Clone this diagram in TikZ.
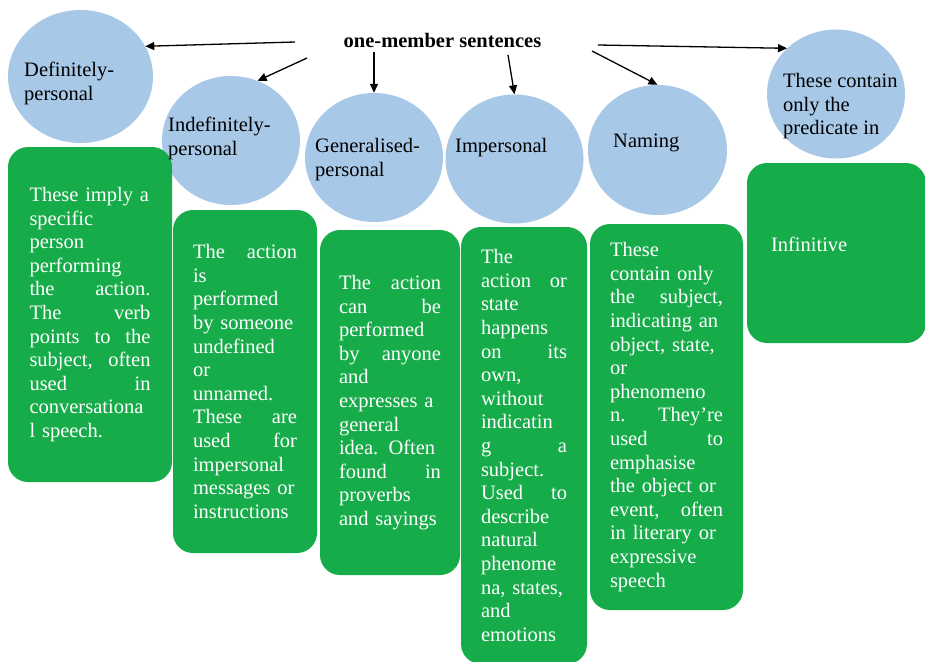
\documentclass[tikz,border=0pt]{standalone}
\usepackage{fontspec}
\setmainfont{Liberation Serif}
\usetikzlibrary{shapes.geometric,arrows.meta}
\definecolor{bubbleblue}{RGB}{168,200,232}
\definecolor{cardgreen}{RGB}{23,172,74}
\newcommand{\bodyfont}{\fontsize{20.5}{23.6}\selectfont\hyphenpenalty=10000\relax}
\tikzset{
  bubble/.style={ellipse, fill=bubbleblue, minimum width=138pt, minimum height=129pt, inner sep=0pt},
  card/.style={rounded corners=20pt, fill=cardgreen, text=white, align=left, inner sep=0pt, font=\bodyfont},
  bubbletext/.style={anchor=north west, align=left, inner sep=0pt, font=\bodyfont},
  branch/.style={line width=1.3pt, -{Triangle[length=9pt,width=8pt]}}
}
\begin{document}
\begin{tikzpicture}[x=1pt,y=-1pt]
\useasboundingbox[fill=white] (0,0) rectangle (925,661);
\node[bubble, minimum width=145pt, minimum height=133pt] (def) at (80.5,76.5){};
\node[bubble] (indef) at (231,140.5){};
\node[bubble] (gen) at (374,157.5){};
\node[bubble] (imp) at (514.5,159){};
\node[bubble, minimum width=139pt, minimum height=130pt] (nam) at (657.5,150){};
\node[bubble] (inf) at (836,94){};
\node[card, minimum width=164pt, minimum height=335pt, text width=121pt] (defcard) at (90,314.5){These imply a\\ specific\\ person\\ performing\\ the\hfill action.\\ The\hfill verb\\ points\hfill to\hfill the\\ subject,\hfill often\\ used\hfill in\\ conversationa\\ l speech.};
\node[card, minimum width=144pt, minimum height=343pt, text width=104pt] (indefcard) at (245,381.5){The\hfill action\\ is\\ performed\\ by someone\\ undefined\\ or\\ unnamed.\\ These\hfill are\\ used\hfill for\\ impersonal\\ messages or\\ instructions};
\node[card, minimum width=140pt, minimum height=345pt, text width=102pt] (gencard) at (390,402.5){The\hfill action\\ can\hfill be\\ performed\\ by\hfill anyone\\ and\\ expresses a\\ general\\ idea. Often\\ found\hfill in\\ proverbs\\ and sayings};
\node[card, minimum width=126pt, minimum height=437pt, text width=86pt] (impcard) at (524,445.5){The\\ action\hfill or\\ state\\ happens\\ on\hfill its\\ own,\\ without\\ indicatin\\ g\hfill a\\ subject.\\ Used\hfill to\\ describe\\ natural\\ phenome\\ na, states,\\ and\\ emotions};
\node[card, minimum width=153pt, minimum height=386pt, text width=113pt] (namcard) at (666.5,417){These\\ contain only\\ the\hfill subject,\\ indicating an\\ object, state,\\ or\\ phenomeno\\ n.\hfill They’re\\ used\hfill to\\ emphasise\\ the object or\\ event,\hfill often\\ in literary or\\ expressive\\ speech};
\node[card, minimum width=179pt, minimum height=180pt, text width=131pt, text depth=17pt] (infcard) at (836.5,253){Infinitive};
\node[bubbletext] (deflabel) at (24,62){Definitely-\\personal};
\node[bubbletext] (indeflabel) at (168,117){Indefinitely-\\personal};
\node[bubbletext] (genlabel) at (315,138){Generalised-\\personal};
\node[bubbletext] (implabel) at (455,138){Impersonal};
\node[bubbletext] (namlabel) at (613,134){Naming};
\node[bubbletext] (inflabel) at (783,73){These contain\\only the\\predicate in};
\node[anchor=base, inner sep=0pt, font=\bodyfont\bfseries] (title) at (442.5,48){one-member sentences};
\coordinate (s1) at (295,42);
\coordinate (s2) at (307,58);
\coordinate (s3) at (374,52);
\coordinate (s4) at (508,55);
\coordinate (s5) at (592,51);
\coordinate (s6) at (598,45);
\draw[branch] (s1) -- (def.25);
\draw[branch] (s2) -- (indef.66);
\draw[branch] (s3) -- (gen.north);
\draw[branch] (s4) -- (imp.north);
\draw[branch] (s5) -- (nam.north);
\draw[branch] (s6) -- (inf.137);
\end{tikzpicture}
\end{document}
